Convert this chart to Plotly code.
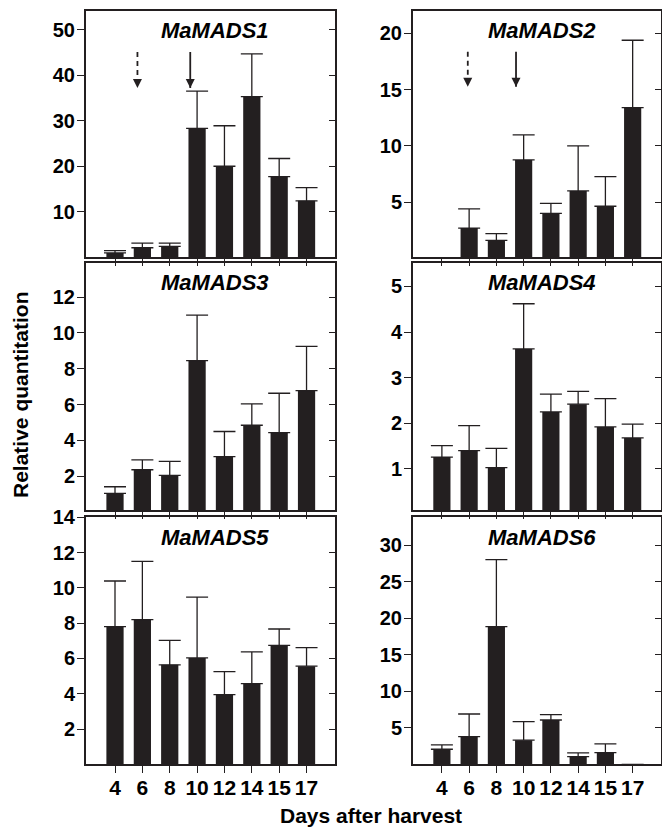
import plotly.graph_objects as go

days = ["4", "6", "8", "10", "12", "14", "15", "17"]
genes = ["MaMADS1", "MaMADS2", "MaMADS3", "MaMADS4", "MaMADS5", "MaMADS6"]

mads1 = [0.95, 2.1, 2.4, 28.3, 20.0, 35.3, 17.7, 12.4]
mads1_err = [0.5, 1.0, 0.7, 8.2, 8.9, 9.4, 4.0, 2.9]
mads2 = [0, 2.7, 1.6, 8.76, 4.0, 6.0, 4.64, 13.4]
mads2_err = [None, 1.7, 0.6, 2.22, 0.9, 4.0, 2.64, 6.0]
mads3 = [1.03, 2.35, 2.04, 8.45, 3.08, 4.84, 4.43, 6.78]
mads3_err = [0.37, 0.55, 0.78, 2.55, 1.41, 1.19, 2.2, 2.47]
mads4 = [1.26, 1.40, 1.03, 3.63, 2.25, 2.42, 1.92, 1.68]
mads4_err = [0.25, 0.55, 0.42, 0.99, 0.39, 0.28, 0.62, 0.30]
mads5 = [7.8, 8.2, 5.64, 6.03, 3.95, 4.57, 6.74, 5.56]
mads5_err = [2.59, 3.3, 1.38, 3.44, 1.3, 1.8, 0.93, 1.05]
mads6 = [2.06, 3.8, 18.85, 3.3, 6.06, 1.06, 1.6, 0]
mads6_err = [0.6, 3.08, 9.15, 2.53, 0.73, 0.5, 1.2, None]

values = [mads1, mads2, mads3, mads4, mads5, mads6]
errors = [mads1_err, mads2_err, mads3_err, mads4_err, mads5_err, mads6_err]

y_ranges = [[0, 54.1], [0.1, 22.0], [0.1, 13.93], [0.1, 5.52], [0, 14.0], [0, 33.8]]
y_ticks = [[10, 20, 30, 40, 50], [5, 10, 15, 20], [2, 4, 6, 8, 10, 12],
           [1, 2, 3, 4, 5], [2, 4, 6, 8, 10, 12, 14], [5, 10, 15, 20, 25, 30]]

# arrows (panel index, x position in category units, top, tip, dashed)
arrow_panel = [0, 0, 1, 1]
arrow_x = [0.82, 2.75, 0.95, 2.72]
arrow_top = [45.1, 45.1, 18.37, 18.37]
arrow_tip = [37.2, 37.2, 15.26, 15.26]
arrow_dash = [True, False, True, False]

W, H = 662, 828
col_px = [(86, 335), (413, 661)]
row_px = [(11, 257.3), (262.7, 510), (517.3, 764.3)]

INK = "#231f20"
FONT = "Liberation Sans, Arial, Helvetica, sans-serif"

fig = go.Figure()
xpos = list(range(len(days)))

layout = dict(
    template="none",
    width=W, height=H,
    margin=dict(l=0, r=0, t=0, b=0, pad=0, autoexpand=False),
    paper_bgcolor="white", plot_bgcolor="white",
    showlegend=False, bargap=0.37,
)
annotations = []

for i, gene in enumerate(genes):
    r, c = divmod(i, 2)
    n = i + 1
    xa = "x" if n == 1 else f"x{n}"
    ya = "y" if n == 1 else f"y{n}"
    fig.add_trace(go.Bar(
        x=xpos, y=values[i], xaxis=xa, yaxis=ya,
        marker=dict(color=INK, line=dict(width=0)),
        width=0.63,
        error_y=dict(type="data", array=errors[i], symmetric=False,
                     arrayminus=[0] * len(days), color=INK, thickness=1.3, width=11),
        hoverinfo="skip",
    ))
    x0, x1 = col_px[c]
    y0, y1 = row_px[r]
    xdom = [x0 / W, x1 / W]
    ydom = [1 - y1 / H, 1 - y0 / H]
    layout["xaxis" if n == 1 else f"xaxis{n}"] = dict(
        domain=xdom, anchor=ya, range=[-1.06, 8.04], automargin=False,
        tickvals=xpos, ticktext=days, showticklabels=(r == 2),
        ticks="outside", ticklen=7, tickwidth=1.3, tickcolor=INK,
        ticklabelstandoff=-4,
        showline=True, mirror=True, linewidth=2, linecolor=INK,
        showgrid=False, zeroline=False,
        tickfont=dict(family=FONT, size=21, color="black", weight="bold"),
    )
    layout["yaxis" if n == 1 else f"yaxis{n}"] = dict(
        domain=ydom, anchor=xa, range=y_ranges[i], automargin=False,
        tickvals=y_ticks[i], ticks="outside", ticklen=7, tickwidth=1.3, tickcolor=INK,
        ticklabelstandoff=-2,
        showline=True, mirror=True, linewidth=2, linecolor=INK,
        showgrid=False, zeroline=False,
        tickfont=dict(family=FONT, size=20, color="black", weight="bold"),
    )
    # right-side inner ticks
    m = n + 6
    layout[f"yaxis{m}"] = dict(
        overlaying=ya, anchor=xa, side="right", range=y_ranges[i], automargin=False,
        tickvals=y_ticks[i], ticks="inside", ticklen=6, tickwidth=1.3, tickcolor=INK,
        showticklabels=False, showline=False, showgrid=False, zeroline=False,
    )
    fig.add_trace(go.Scatter(x=[None], y=[None], xaxis=xa, yaxis=f"y{m}",
                             mode="markers", hoverinfo="skip"))
    annotations.append(dict(
        text=gene, xref=f"{xa} domain", yref=f"{ya} domain",
        x=0.52, y=0.92, xanchor="center", yanchor="middle", showarrow=False,
        font=dict(family=FONT, size=22, color="black", weight="bold", style="italic"),
    ))

for k in range(len(arrow_x)):
    n = arrow_panel[k] + 1
    xa = "x" if n == 1 else f"x{n}"
    ya = "y" if n == 1 else f"y{n}"
    fig.add_trace(go.Scatter(
        x=[arrow_x[k], arrow_x[k]], y=[arrow_top[k], arrow_tip[k]],
        xaxis=xa, yaxis=ya, mode="lines",
        line=dict(color=INK, width=1.8, dash="5px,4px" if arrow_dash[k] else "solid"),
        hoverinfo="skip",
    ))
    fig.add_trace(go.Scatter(
        x=[arrow_x[k]], y=[arrow_tip[k]], xaxis=xa, yaxis=ya, mode="markers",
        marker=dict(symbol="arrow-down", size=9, color=INK, line=dict(width=0)),
        hoverinfo="skip",
    ))

annotations.append(dict(
    text="Relative quantitation", xref="paper", yref="paper",
    x=20 / W, y=1 - 395 / H, textangle=-90, showarrow=False,
    xanchor="center", yanchor="middle",
    font=dict(family=FONT, size=21, color="black", weight="bold"),
))
annotations.append(dict(
    text="Days after harvest", xref="paper", yref="paper",
    x=371 / W, y=1 - 815 / H, showarrow=False, xanchor="center", yanchor="middle",
    font=dict(family=FONT, size=21, color="black", weight="bold"),
))
layout["annotations"] = annotations
fig.update_layout(**layout)
fig.write_html("out.html")
